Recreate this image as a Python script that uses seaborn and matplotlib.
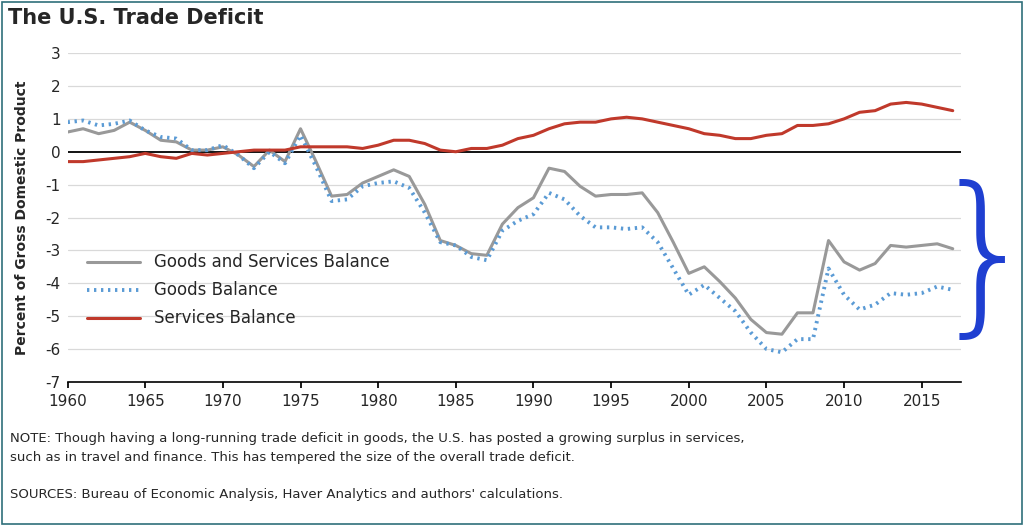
import numpy as np
import pandas as pd
import seaborn as sns
import matplotlib.pyplot as plt
from matplotlib.patches import Rectangle

years = list(range(1960, 2018))
goods_services = [0.6, 0.7, 0.55, 0.65, 0.9, 0.65, 0.35, 0.3, 0.05, 0.05,
                  0.15, -0.1, -0.45, 0.05, -0.3, 0.7, -0.3, -1.35, -1.3, -0.95,
                  -0.75, -0.55, -0.75, -1.6, -2.7, -2.85, -3.1, -3.15, -2.2, -1.7,
                  -1.4, -0.5, -0.6, -1.05, -1.35, -1.3, -1.3, -1.25, -1.85, -2.75,
                  -3.7, -3.5, -3.95, -4.45, -5.1, -5.5, -5.55, -4.9, -4.9, -2.7,
                  -3.35, -3.6, -3.4, -2.85, -2.9, -2.85, -2.8, -2.95]
goods = [0.9, 0.95, 0.8, 0.85, 0.95, 0.65, 0.45, 0.4, 0.05, 0.05,
         0.2, -0.1, -0.5, 0.0, -0.35, 0.5, -0.45, -1.5, -1.45, -1.05,
         -0.95, -0.9, -1.1, -1.85, -2.75, -2.85, -3.2, -3.3, -2.4, -2.1,
         -1.9, -1.25, -1.45, -1.95, -2.3, -2.3, -2.35, -2.3, -2.75, -3.55,
         -4.35, -4.05, -4.45, -4.85, -5.5, -6.0, -6.1, -5.7, -5.7, -3.55,
         -4.35, -4.8, -4.65, -4.3, -4.35, -4.3, -4.1, -4.2]
services = [-0.3, -0.3, -0.25, -0.2, -0.15, -0.05, -0.15, -0.2, -0.05, -0.1,
            -0.05, 0.0, 0.05, 0.05, 0.05, 0.15, 0.15, 0.15, 0.15, 0.1,
            0.2, 0.35, 0.35, 0.25, 0.05, 0.0, 0.1, 0.1, 0.2, 0.4,
            0.5, 0.7, 0.85, 0.9, 0.9, 1.0, 1.05, 1.0, 0.9, 0.8,
            0.7, 0.55, 0.5, 0.4, 0.4, 0.5, 0.55, 0.8, 0.8, 0.85,
            1.0, 1.2, 1.25, 1.45, 1.5, 1.45, 1.35, 1.25]
xticks = [1960, 1965, 1970, 1975, 1980, 1985, 1990, 1995, 2000, 2005, 2010, 2015]
yticks = [-7, -6, -5, -4, -3, -2, -1, 0, 1, 2, 3]

sns.set_theme(style="white")
plt.rcParams['font.family'] = ['DejaVu Sans']
plt.rcParams['axes.unicode_minus'] = False
fig = plt.figure(figsize=(10.24, 5.26), dpi=100)
ax = fig.add_axes([0.066, 0.274, 0.872, 0.625])

df = pd.DataFrame({"year": years, "gs": goods_services, "g": goods, "s": services})
for y in yticks:
    if y not in (0, -7):
        ax.axhline(y, color="#d9d9d9", lw=0.9, zorder=0)
ax.axhline(0, color="black", lw=1.3, zorder=1)
sns.lineplot(data=df, x="year", y="gs", ax=ax, color="#999999", lw=2.2, label="Goods and Services Balance")
sns.lineplot(data=df, x="year", y="g", ax=ax, color="#5b9bd5", lw=2.8, linestyle=(0, (0.6, 1.2)),
             label="Goods Balance")
sns.lineplot(data=df, x="year", y="s", ax=ax, color="#c0392b", lw=2.2, label="Services Balance")

ax.set_xlim(1960, 2017.5)
ax.set_ylim(-7, 3)
ax.set_xticks(xticks)
ax.set_yticks(yticks)
ax.tick_params(axis="both", labelsize=11, length=0, pad=5)
ax.tick_params(axis="x", length=4, direction="out", color="black", bottom=True)
for sp in ["top", "right", "left"]:
    ax.spines[sp].set_visible(False)
ax.spines["bottom"].set_color("black")
ax.spines["bottom"].set_linewidth(1.2)
ax.set_xlabel("")
ax.set_ylabel("Percent of Gross Domestic Product", fontsize=10, fontweight="bold", labelpad=12)
leg = ax.legend(loc="lower left", bbox_to_anchor=(0.005, 0.12), frameon=False, fontsize=12,
                handlelength=3.2, labelspacing=0.6)

fig.text(0.008, 0.965, "The U.S. Trade Deficit", fontsize=15, fontweight="bold", va="center")
fig.text(0.01, 0.148, "NOTE: Though having a long-running trade deficit in goods, the U.S. has posted a growing surplus in services,\n"
         "such as in travel and finance. This has tempered the size of the overall trade deficit.",
         fontsize=9.5, va="center", linespacing=1.6)
fig.text(0.01, 0.06, "SOURCES: Bureau of Economic Analysis, Haver Analytics and authors' calculations.",
         fontsize=9.5, va="center")
fig.patches.append(Rectangle((0.002, 0.003), 0.996, 0.994, transform=fig.transFigure,
                             fill=False, ec="#2f6f7a", lw=1.2))
fig.text(0.962, 0.50, "}", fontsize=125, color="#1f3fd1", va="center", ha="center",
         fontweight="ultralight", transform=fig.transFigure)
fig.savefig("out.png", dpi=100)
